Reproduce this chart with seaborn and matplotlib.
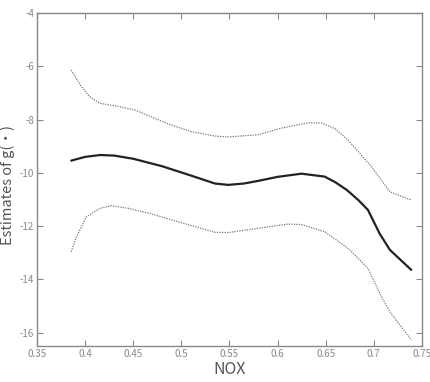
import matplotlib
matplotlib.use("Agg")
import matplotlib.pyplot as plt
import seaborn as sns
import pandas as pd

# Data
nox_fit = [0.3856, 0.400, 0.4155, 0.430, 0.450, 0.480, 0.510, 0.535, 0.5488, 0.565, 0.580, 0.600, 0.625, 0.649, 0.660, 0.672, 0.684, 0.694, 0.706, 0.7168, 0.739]
g_fit = [-9.54, -9.40, -9.33, -9.35, -9.47, -9.75, -10.10, -10.40, -10.45, -10.40, -10.30, -10.15, -10.03, -10.14, -10.35, -10.64, -11.02, -11.39, -12.27, -12.89, -13.64]

nox_upper = [0.3856, 0.395, 0.405, 0.4155, 0.4335, 0.4518, 0.4847, 0.510, 0.535, 0.5488, 0.580, 0.604, 0.632, 0.6458, 0.660, 0.6734, 0.6977, 0.7168, 0.739]
g_upper = [-6.14, -6.70, -7.15, -7.39, -7.50, -7.64, -8.14, -8.45, -8.62, -8.65, -8.57, -8.32, -8.12, -8.13, -8.35, -8.77, -9.77, -10.71, -11.02]

nox_lower = [0.3856, 0.391, 0.4016, 0.4155, 0.4276, 0.445, 0.467, 0.502, 0.535, 0.5488, 0.580, 0.611, 0.625, 0.649, 0.6734, 0.694, 0.708, 0.7168, 0.739]
g_lower = [-12.96, -12.39, -11.64, -11.33, -11.23, -11.33, -11.52, -11.89, -12.23, -12.24, -12.08, -11.92, -11.94, -12.21, -12.83, -13.58, -14.65, -15.21, -16.27]

x_ticks = [0.35, 0.4, 0.45, 0.5, 0.55, 0.6, 0.65, 0.7, 0.75]
x_tick_labels = ["0.35", "0.4", "0.45", "0.5", "0.55", "0.6", "0.65", "0.7", "0.75"]
y_ticks = [-16, -14, -12, -10, -8, -6, -4]
y_tick_labels = ["-16", "-14", "-12", "-10", "-8", "-6", "-4"]

sns.set_style("ticks")
plt.rcParams['font.family'] = ['Noto Sans CJK JP', 'DejaVu Sans']

fig = plt.figure(figsize=(4.30, 3.82), dpi=100)
ax = fig.add_axes([0.086, 0.094, 0.895, 0.872])

df_fit = pd.DataFrame({"NOX": nox_fit, "g": g_fit})
df_up = pd.DataFrame({"NOX": nox_upper, "g": g_upper})
df_lo = pd.DataFrame({"NOX": nox_lower, "g": g_lower})

sns.lineplot(data=df_up, x="NOX", y="g", ax=ax, color="#777777", lw=0.9,
             linestyle=(0, (1, 1)), sort=True)
sns.lineplot(data=df_lo, x="NOX", y="g", ax=ax, color="#777777", lw=0.9,
             linestyle=(0, (1, 1)), sort=True)
sns.lineplot(data=df_fit, x="NOX", y="g", ax=ax, color="#222222", lw=1.6, sort=True)

ax.set_xlim(0.35, 0.75)
ax.set_ylim(-16.5, -4)
ax.set_xticks(x_ticks)
ax.set_xticklabels(x_tick_labels)
ax.set_yticks(y_ticks)
ax.set_yticklabels(y_tick_labels)

ax.tick_params(direction="in", length=4, width=0.8, color="#888888",
               labelcolor="#888888", labelsize=7, top=True, right=True,
               labeltop=False, labelright=False, pad=2)
for s in ax.spines.values():
    s.set_color("#888888")
    s.set_linewidth(1.0)
    s.set_visible(True)

ax.set_xlabel("NOX", fontsize=11.5, color="#555555", va="center")
ax.set_ylabel("Estimates of g(・)", fontsize=10.5, color="#555555", va="center")
ax.xaxis.set_label_coords(0.501, -0.069)
ax.yaxis.set_label_coords(-0.075, 0.485)

fig.savefig("out.png", dpi=100)
